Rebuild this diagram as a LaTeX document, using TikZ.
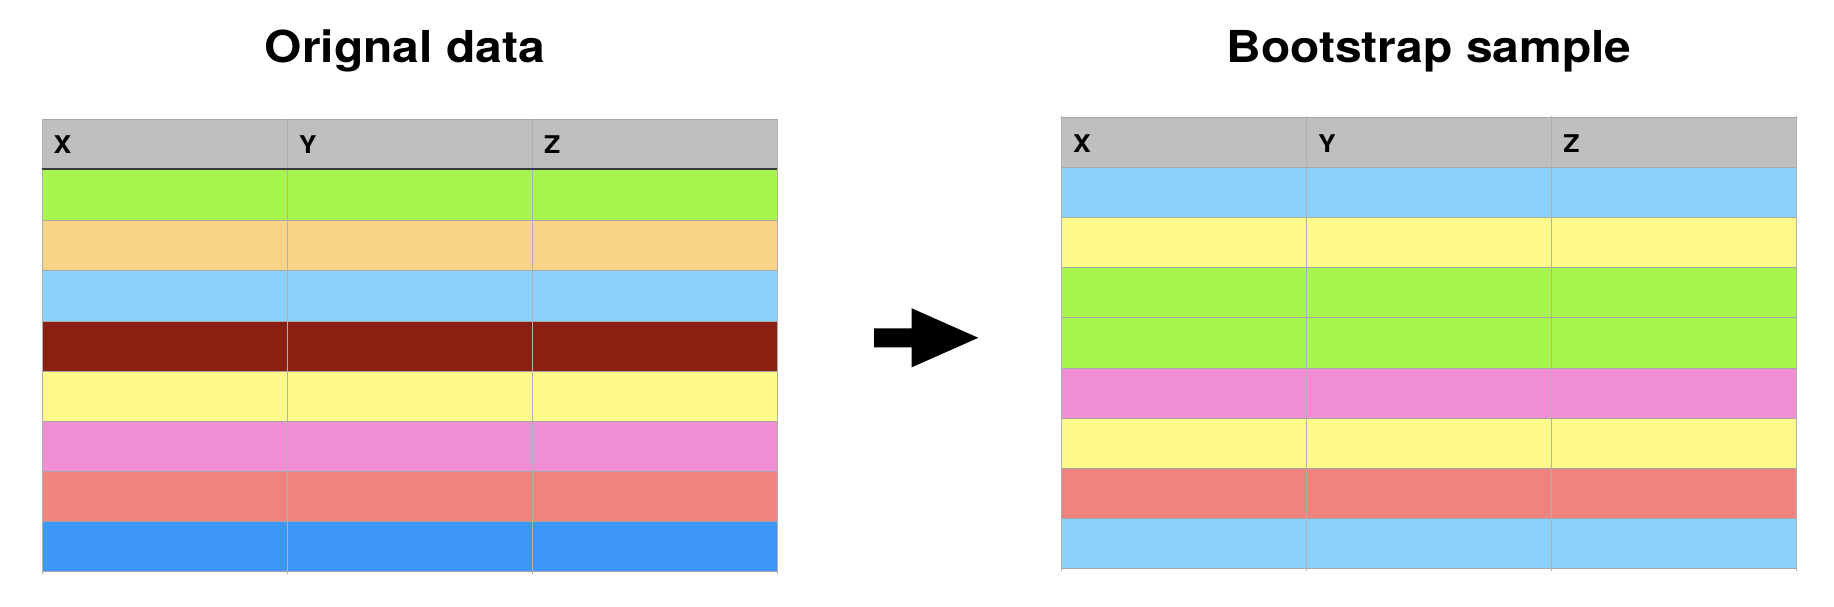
\documentclass[tikz,border=0pt]{standalone}
\usepackage{fontspec}
\newfontfamily\headfont[FakeStretch=1.09]{TeX Gyre Heros}

\tikzset{every picture/.style={line width=0.5pt}}
\tikzset{
	cellline/.style={draw={rgb, 255:red, 166; green, 166; blue, 166 }},
	headrow/.style={cellline, fill={rgb, 255:red, 190; green, 192; blue, 191 }},
	greenrow/.style={cellline, fill={rgb, 255:red, 168; green, 245; blue, 80 }},
	peachrow/.style={cellline, fill={rgb, 255:red, 248; green, 212; blue, 136 }},
	skyrow/.style={cellline, fill={rgb, 255:red, 140; green, 211; blue, 251 }},
	maroonrow/.style={cellline, fill={rgb, 255:red, 138; green, 32; blue, 18 }},
	yellowrow/.style={cellline, fill={rgb, 255:red, 254; green, 249; blue, 139 }},
	pinkrow/.style={cellline, fill={rgb, 255:red, 240; green, 144; blue, 212 }},
	salmonrow/.style={cellline, fill={rgb, 255:red, 239; green, 131; blue, 125 }},
	bluerow/.style={cellline, fill={rgb, 255:red, 61; green, 151; blue, 247 }},
	colline/.style={draw={rgb, 255:red, 176; green, 176; blue, 176 }},
	colname/.style={anchor=base west, inner sep=0pt, font=\headfont\fontsize{12.2pt}{14pt}\selectfont\bfseries},
	titletext/.style={anchor=base, inner sep=0pt, font=\headfont\fontsize{22pt}{26pt}\selectfont\bfseries}}

\begin{document}
\begin{tikzpicture}[x=0.5pt,y=0.5pt,yscale=-1,xscale=1]
	\useasboundingbox (0,0) rectangle (1834,606);

	%Shape: Rectangle [left table, header]
	\draw [headrow] (42,119.3) rectangle (777,169.4) ;
	%Shape: Rectangle [left table, rows]
	\draw [greenrow] (42,169.4) rectangle (777,220.3) ;
	\draw [peachrow] (42,220.3) rectangle (777,270.6) ;
	\draw [skyrow] (42,270.6) rectangle (777,321.6) ;
	\draw [maroonrow] (42,321.6) rectangle (777,371.5) ;
	\draw [yellowrow] (42,371.5) rectangle (777,421.3) ;
	\draw [pinkrow] (42,421.3) rectangle (777,471.6) ;
	\draw [salmonrow] (42,471.6) rectangle (777,521.8) ;
	\draw [bluerow] (42,521.8) rectangle (777,571.5) ;
	%Straight Lines [left table, columns]
	\draw [colline] (42,119.3) -- (42,573.5) ;
	\draw [colline] (287.3,119.3) -- (287.3,573.5) ;
	\draw [colline] (532.5,119.3) -- (532.5,573.5) ;
	\draw [colline] (777,119.3) -- (777,573.5) ;
	%Straight Lines [left table, header bottom]
	\draw [draw={rgb, 255:red, 60; green, 60; blue, 60 }, line width=1pt] (42,169.4) -- (777,169.4) ;

	%Shape: Rectangle [right table, header]
	\draw [headrow] (1061.5,117.1) rectangle (1796.5,167.4) ;
	%Shape: Rectangle [right table, rows]
	\draw [skyrow] (1061.5,167.4) rectangle (1796.5,217.6) ;
	\draw [yellowrow] (1061.5,217.6) rectangle (1796.5,267.5) ;
	\draw [greenrow] (1061.5,267.5) rectangle (1796.5,317.7) ;
	\draw [greenrow] (1061.5,317.7) rectangle (1796.5,368.4) ;
	\draw [pinkrow] (1061.5,368.4) rectangle (1796.5,418.6) ;
	\draw [yellowrow] (1061.5,418.6) rectangle (1796.5,468.5) ;
	\draw [salmonrow] (1061.5,468.5) rectangle (1796.5,518.7) ;
	\draw [skyrow] (1061.5,518.7) rectangle (1796.5,568.2) ;
	%Straight Lines [right table, columns]
	\draw [colline] (1061.5,115.5) -- (1061.5,570.5) ;
	\draw [colline] (1306.7,115.5) -- (1306.7,570.5) ;
	\draw [colline] (1551.9,115.5) -- (1551.9,570.5) ;
	\draw [colline] (1796.5,115.5) -- (1796.5,570.5) ;

	%Shape: Polygon [arrow]
	\fill (874,328.3) -- (911.7,328.3) -- (911.7,308.3) -- (978.3,337.8) -- (911.7,367.3) -- (911.7,347.3) -- (874,347.3) -- cycle ;

	% Text Node
	\node [titletext] (origtitle) at (405,62.5) {Orignal data};
	% Text Node
	\node [titletext] (boottitle) at (1429,62.5) {Bootstrap sample};
	% Text Node
	\node [colname] (origx) at (53,153.9) {X};
	% Text Node
	\node [colname] (origy) at (298.3,153.9) {Y};
	% Text Node
	\node [colname] (origz) at (543.5,153.9) {Z};
	% Text Node
	\node [colname] (bootx) at (1072.5,152.6) {X};
	% Text Node
	\node [colname] (booty) at (1317.7,152.6) {Y};
	% Text Node
	\node [colname] (bootz) at (1562.9,152.6) {Z};

\end{tikzpicture}
\end{document}
